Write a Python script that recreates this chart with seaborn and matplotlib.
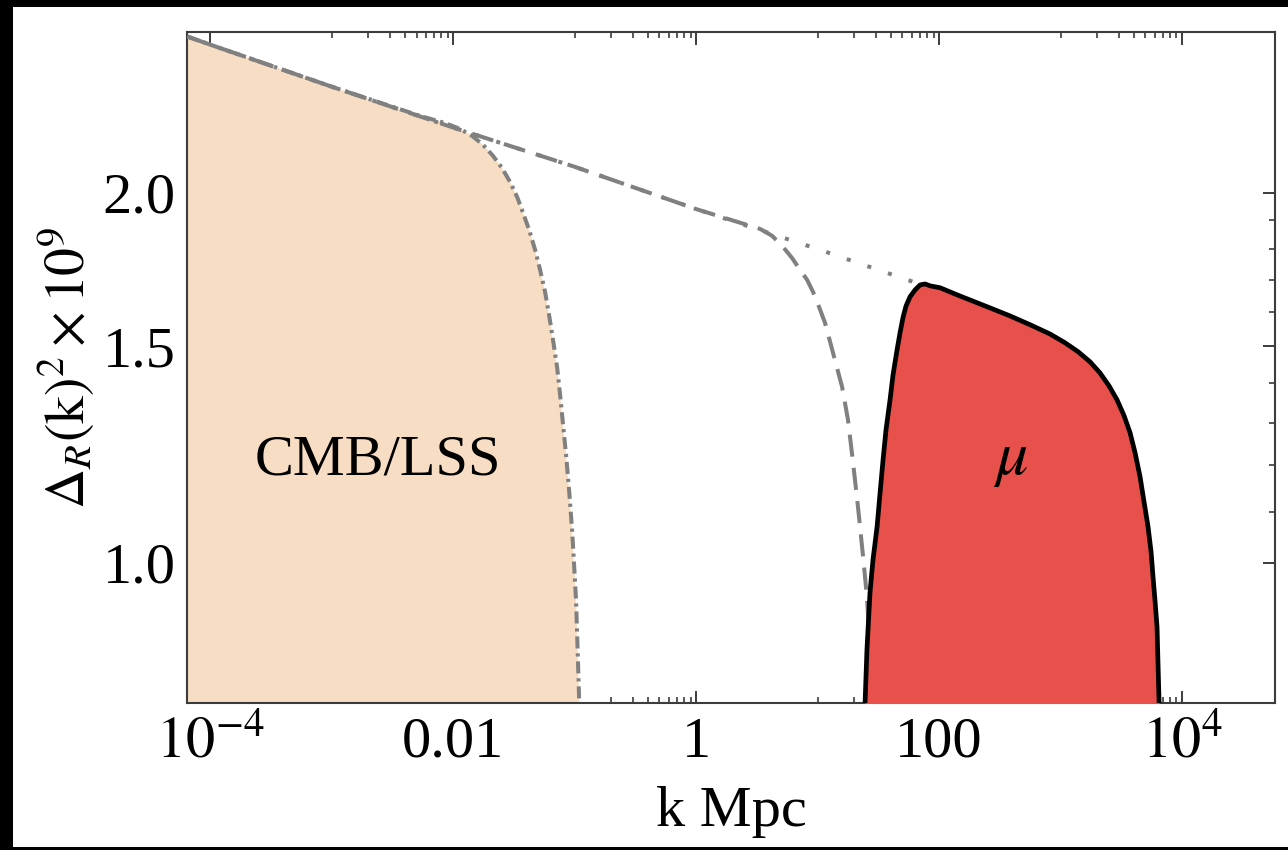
import matplotlib
matplotlib.use('Agg')
import matplotlib.pyplot as plt
from matplotlib.patches import Rectangle
from matplotlib.ticker import NullFormatter
import pandas as pd
import seaborn as sns

# Values: k in 1/Mpc, power spectrum x 1e9
# CMB/LSS window (dash-dot boundary of the peach region)
k_cmb = [6.5e-5, 1e-4, 1e-3, 5.35e-3, 8.59e-3, 0.01143, 0.01433, 0.01766, 0.02134,
         0.0253, 0.02944, 0.03363, 0.03768, 0.04225, 0.04736, 0.05204, 0.05718,
         0.06166, 0.0665, 0.07178, 0.076, 0.0804, 0.0851, 0.0901, 0.0954, 0.0991,
         0.1028, 0.105, 0.1089, 0.111]
d_cmb = [2.68, 2.64, 2.44, 2.31, 2.279, 2.254, 2.225, 2.188, 2.143,
         2.095, 2.041, 1.985, 1.926, 1.866, 1.797, 1.731, 1.661,
         1.591, 1.518, 1.443, 1.37, 1.295, 1.224, 1.146, 1.064, 0.996,
         0.933, 0.874, 0.778, 0.745]

# dashed window
k_dash = [6.5e-5, 1e-4, 1e-3, 1e-2, 0.1, 1, 2.3, 3.37, 4.23, 5.2, 6.17, 7.18, 8.2,
          9.18, 10.29, 11.53, 13.4, 15.9, 17.8, 19.6, 21.5, 23.7, 25.5, 27.05,
          28.1, 28.6]
d_dash = [2.68, 2.64, 2.44, 2.26, 2.10, 1.94, 1.891, 1.869, 1.845, 1.807, 1.77,
          1.731, 1.699, 1.661, 1.615, 1.567, 1.482, 1.391, 1.307, 1.206, 1.111,
          1.011, 0.938, 0.85, 0.769, 0.738]

# dotted extension of the spectrum up to the mu peak
k_dot = [6.5e-5, 1e-4, 1e-3, 1e-2, 0.1, 1, 10, 70]
d_dot = [2.68, 2.64, 2.44, 2.26, 2.10, 1.94, 1.80, 1.685]

# mu-distortion window (red region)
k_mu = [24.2, 24.6, 25.5, 27.0, 28.6, 30.9, 32.7, 34.6, 36.6, 39.5, 41.8, 45.1,
        47.7, 50.6, 53.5, 57.7, 63.4, 69.8, 76.7, 84.4, 102, 140.6, 198, 263,
        384, 561, 820, 1089, 1394, 1750, 2113, 2506, 2917, 3334, 3732, 4104,
        4510, 4865, 5248, 5557, 5768, 5998, 6223, 6345, 6471, 6590]
d_mu = [0.738, 0.769, 0.85, 0.945, 1.006, 1.07, 1.14, 1.213, 1.283, 1.357, 1.422,
        1.49, 1.538, 1.585, 1.618, 1.646, 1.667, 1.683, 1.686, 1.68, 1.674,
        1.652, 1.63, 1.612, 1.588, 1.562, 1.535, 1.51, 1.485, 1.457, 1.427,
        1.393, 1.357, 1.317, 1.276, 1.229, 1.175, 1.121, 1.07, 1.021, 0.974,
        0.93, 0.887, 0.826, 0.769, 0.738]

x_major = [1e-4, 1e-2, 1, 1e2, 1e4]
x_labels = [r'$10^{-4}$', '0.01', '1', '100', r'$10^{4}$']
x_minor = [m * 10.0 ** e for e in (-3, -1, 1, 3) for m in range(1, 10)]
y_major = [1.0, 1.5, 2.0]
y_labels = ['1.0', '1.5', '2.0']
y_minor = [1.1, 1.2, 1.3, 1.4, 1.6, 1.7, 1.8, 1.9]

peach = '#F7DDC3'
red = '#E8514B'
gray = '#808080'
frame = '#3c3c3c'

sns.set_theme(style='ticks')
plt.rcParams['font.family'] = ['Liberation Serif', 'DejaVu Serif']
plt.rcParams['mathtext.fontset'] = 'stix'
plt.rcParams['text.color'] = 'black'

fig = plt.figure(figsize=(12.88, 8.5), dpi=100)
fig.patch.set_facecolor('black')
fig.add_artist(Rectangle((13 / 1288, 3 / 850), 1, 840 / 850, transform=fig.transFigure,
                         facecolor='white', edgecolor='none', zorder=-10))
ax = fig.add_axes([187 / 1288, 147 / 850, 1088 / 1288, 671 / 850])
ax.set_facecolor('white')
ax.set_xscale('log')
ax.set_yscale('log')

cmb = pd.DataFrame({'k': k_cmb, 'd': d_cmb})
dash = pd.DataFrame({'k': k_dash, 'd': d_dash})
dot = pd.DataFrame({'k': k_dot, 'd': d_dot})
mu = pd.DataFrame({'k': k_mu, 'd': d_mu})

ax.fill_between(cmb['k'], cmb['d'], 0.5, color=peach, lw=0, zorder=1)
sns.lineplot(data=dot, x='k', y='d', ax=ax, color=gray, lw=2.9,
             linestyle=(0, (1, 4.4)), estimator=None, sort=False, zorder=3)
sns.lineplot(data=dash, x='k', y='d', ax=ax, color=gray, lw=2.9,
             linestyle=(0, (5.5, 2.8)), estimator=None, sort=False, zorder=3)
sns.lineplot(data=cmb, x='k', y='d', ax=ax, color=gray, lw=2.9,
             linestyle=(0, (3, 1.2, 0.8, 1.2)), estimator=None, sort=False, zorder=3)
ax.fill_between(mu['k'], mu['d'], 0.5, color=red, lw=0, zorder=4)
sns.lineplot(data=mu, x='k', y='d', ax=ax, color='black', lw=3.4,
             estimator=None, sort=False, zorder=5)

ax.text(2.4e-3, 1.18, 'CMB/LSS', ha='center', va='baseline', fontsize=42,
        color='black', zorder=6)
ax.text(384, 1.18, r'$\mu$', ha='center', va='baseline', fontsize=46,
        color='black', zorder=6)

ax.set_xlim(10 ** -4.19, 10 ** 4.765)
ax.set_ylim(0.769, 2.703)
ax.set_xticks(x_major, labels=x_labels)
ax.set_xticks(x_minor, minor=True)
ax.set_yticks(y_major, labels=y_labels)
ax.set_yticks(y_minor, minor=True)
ax.xaxis.set_minor_formatter(NullFormatter())
ax.yaxis.set_minor_formatter(NullFormatter())

ax.tick_params(which='both', direction='in', top=True, right=True,
               colors=frame, labelcolor='black')
ax.tick_params(which='major', length=9, width=1.4, labelsize=42)
ax.tick_params(which='minor', length=4, width=1.2)
ax.tick_params(axis='x', which='major', pad=10)
ax.tick_params(axis='y', which='major', pad=8)
for s in ax.spines.values():
    s.set_color(frame)
    s.set_linewidth(1.5)

ax.set_xlabel('k Mpc', fontsize=42, labelpad=12, color='black')
ax.set_ylabel(r'$\Delta_{R}(\mathrm{k})^{2}\times 10^{9}$', fontsize=40, color='black')
ax.yaxis.set_label_coords(-0.083, 0.5)

fig.savefig('out.png', dpi=100, facecolor=fig.get_facecolor())
